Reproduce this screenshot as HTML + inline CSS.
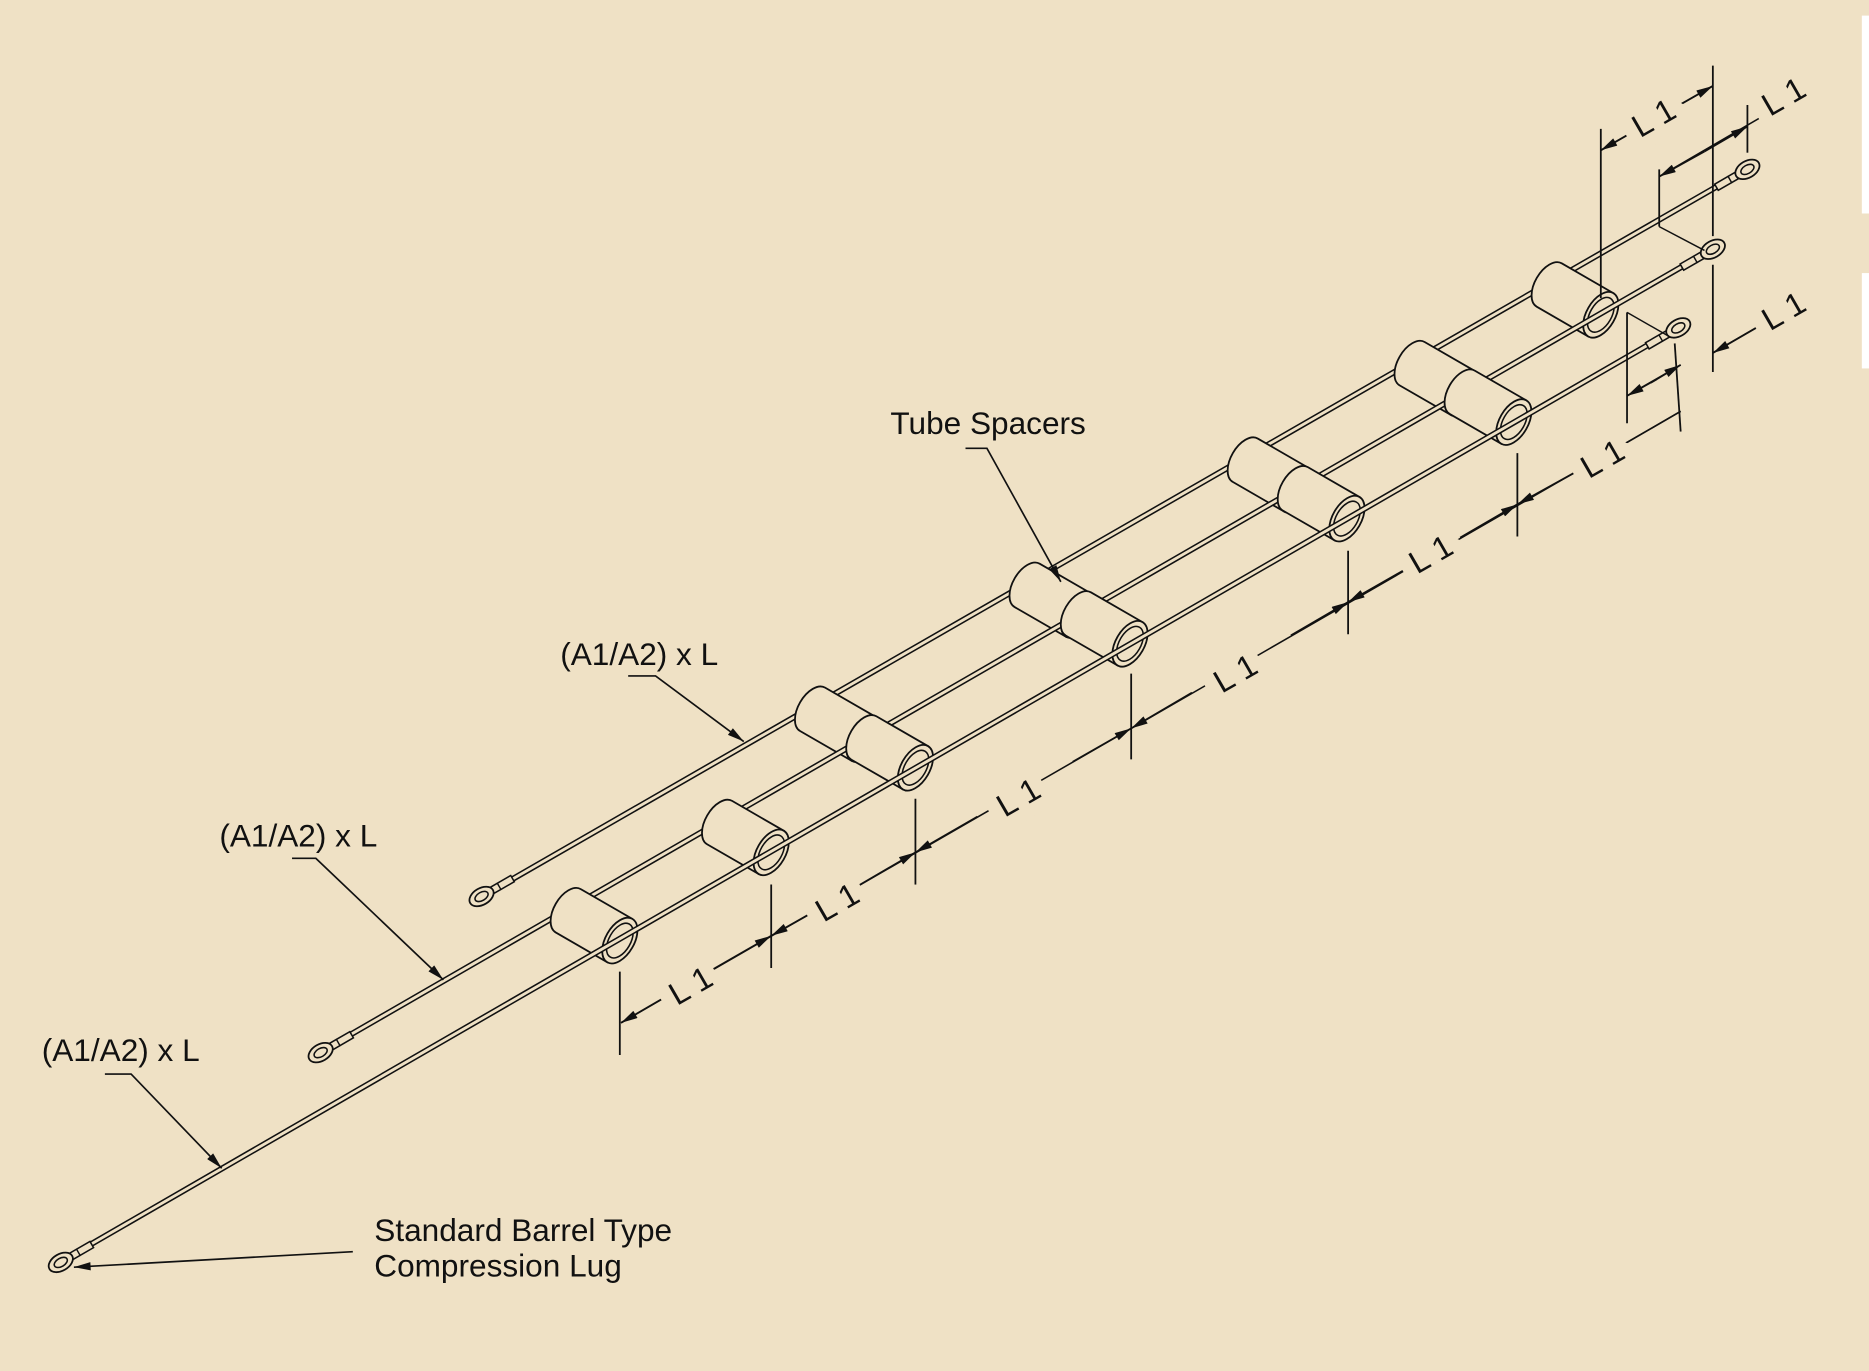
<!DOCTYPE html>
<html><head><meta charset="utf-8"><style>
html,body{margin:0;padding:0;background:#EFE1C5;}
svg{display:block;}
text{font-family:"Liberation Sans",sans-serif;fill:#111;}
</style></head><body>
<svg width="1869" height="1371" viewBox="0 0 1568 1150" xmlns="http://www.w3.org/2000/svg">
<defs>
<g id="cyl">
<path d="M0,-21 L-50,-21 A12,21 0 0 0 -50,21 L0,21 Z" fill="#EFE1C5" stroke="#111" stroke-width="1.5"/>
<ellipse rx="12" ry="21" fill="#EFE1C5" stroke="#111" stroke-width="1.5"/>
<ellipse rx="9" ry="16" fill="none" stroke="#111" stroke-width="1.3"/>
</g>
<g id="lug">
<rect x="10" y="-3" width="20" height="6" fill="#EFE1C5" stroke="#111" stroke-width="1.3"/>
<line x1="17" y1="-3" x2="17" y2="3" stroke="#111" stroke-width="1.2"/>
<ellipse rx="11" ry="7" fill="#EFE1C5" stroke="#111" stroke-width="1.5"/>
<ellipse rx="6" ry="3.5" fill="none" stroke="#111" stroke-width="1.3"/>
</g>
<marker id="ar" viewBox="0 0 16 8" refX="16" refY="4" markerWidth="16" markerHeight="7" markerUnits="userSpaceOnUse" orient="auto"><path d="M0,0 L16,4 L0,8 Z" fill="#111"/></marker>
</defs>
<rect width="1568" height="1150" fill="#EFE1C5"/>
<rect x="1562" y="13" width="6" height="166" fill="#fff"/>
<rect x="1562" y="229" width="6" height="80" fill="#fff"/>

<g stroke-linecap="round">
<line x1="415" y1="746" x2="1455" y2="148" stroke="#111" stroke-width="5"/>
<line x1="415" y1="746" x2="1455" y2="148" stroke="#EFE1C5" stroke-width="2.4"/>
<use href="#lug" transform="translate(404,752) rotate(-30)"/>
<use href="#lug" transform="translate(1466,142) rotate(150)"/>
</g>
<use href="#cyl" transform="translate(725,620) rotate(30)"/>
<use href="#cyl" transform="translate(905,516) rotate(30)"/>
<use href="#cyl" transform="translate(1088,411) rotate(30)"/>
<use href="#cyl" transform="translate(1228,330) rotate(30)"/>
<use href="#cyl" transform="translate(1343,264) rotate(30)"/>
<g stroke-linecap="round">
<line x1="280" y1="876" x2="1426" y2="215" stroke="#111" stroke-width="5"/>
<line x1="280" y1="876" x2="1426" y2="215" stroke="#EFE1C5" stroke-width="2.4"/>
<use href="#lug" transform="translate(269,883) rotate(-30)"/>
<use href="#lug" transform="translate(1437,209) rotate(150)"/>
</g>
<use href="#cyl" transform="translate(520,789) rotate(30)"/>
<use href="#cyl" transform="translate(647,715) rotate(30)"/>
<use href="#cyl" transform="translate(768,644) rotate(30)"/>
<use href="#cyl" transform="translate(948,540) rotate(30)"/>
<use href="#cyl" transform="translate(1130,435) rotate(30)"/>
<use href="#cyl" transform="translate(1270,354) rotate(30)"/>
<g stroke-linecap="round">
<line x1="62" y1="1052" x2="1397" y2="281" stroke="#111" stroke-width="5"/>
<line x1="62" y1="1052" x2="1397" y2="281" stroke="#EFE1C5" stroke-width="2.4"/>
<use href="#lug" transform="translate(51,1059) rotate(-30)"/>
<use href="#lug" transform="translate(1408,275) rotate(150)"/>
</g>

<g stroke="#111" stroke-width="1.5" fill="none">
<line x1="520" y1="815" x2="520" y2="885"/>
<line x1="647" y1="742" x2="647" y2="812"/>
<line x1="768" y1="670" x2="768" y2="742"/>
<line x1="949" y1="565" x2="949" y2="637"/>
<line x1="1131" y1="462" x2="1131" y2="532"/>
<line x1="1273" y1="380" x2="1273" y2="450"/>
<line x1="521" y1="858" x2="1410" y2="345" stroke-width="1.3"/>
<line x1="600" y1="812" x2="521" y2="858" marker-end="url(#ar)"/>
<line x1="600" y1="812" x2="647" y2="785" marker-end="url(#ar)"/>
<line x1="700" y1="755" x2="647" y2="785" marker-end="url(#ar)"/>
<line x1="720" y1="743" x2="768" y2="715" marker-end="url(#ar)"/>
<line x1="820" y1="685" x2="768" y2="715" marker-end="url(#ar)"/>
<line x1="900" y1="639" x2="949" y2="611" marker-end="url(#ar)"/>
<line x1="1000" y1="581" x2="949" y2="611" marker-end="url(#ar)"/>
<line x1="1083" y1="533" x2="1131" y2="505" marker-end="url(#ar)"/>
<line x1="1180" y1="477" x2="1131" y2="505" marker-end="url(#ar)"/>
<line x1="1225" y1="451" x2="1273" y2="423" marker-end="url(#ar)"/>
<line x1="1320" y1="397" x2="1273" y2="423" marker-end="url(#ar)"/>
<line x1="1343" y1="108" x2="1343" y2="250"/>
<line x1="1437" y1="55" x2="1437" y2="198"/>
<line x1="1437" y1="222" x2="1437" y2="312"/>
<line x1="1343" y1="126" x2="1437" y2="72" stroke-width="1.3"/>
<line x1="1390" y1="99" x2="1343" y2="126" marker-end="url(#ar)"/>
<line x1="1400" y1="93" x2="1437" y2="72" marker-end="url(#ar)"/>
<line x1="1392" y1="142" x2="1392" y2="190"/>
<line x1="1392" y1="190" x2="1430" y2="210" stroke-width="1.2"/>
<line x1="1466" y1="88" x2="1466" y2="128"/>
<line x1="1392" y1="148" x2="1495" y2="88" stroke-width="1.3"/>
<line x1="1430" y1="127" x2="1392" y2="148" marker-end="url(#ar)"/>
<line x1="1430" y1="127" x2="1466" y2="106" marker-end="url(#ar)"/>
<line x1="1365" y1="262" x2="1365" y2="355"/>
<line x1="1365" y1="262" x2="1400" y2="282" stroke-width="1.2"/>
<line x1="1405" y1="288" x2="1410" y2="362"/>
<line x1="1365" y1="332" x2="1410" y2="306" stroke-width="1.3"/>
<line x1="1390" y1="318" x2="1365" y2="332" marker-end="url(#ar)"/>
<line x1="1385" y1="321" x2="1410" y2="306" marker-end="url(#ar)"/>
<line x1="1437" y1="296" x2="1485" y2="268" stroke-width="1.3"/>
<line x1="1475" y1="274" x2="1437" y2="296" marker-end="url(#ar)"/>
<line x1="1410" y1="345" x2="1360" y2="374" stroke-width="1.3"/>
</g>
<g font-size="27" letter-spacing="7" stroke="#EFE1C5" stroke-width="22" stroke-linejoin="round" paint-order="stroke" text-anchor="middle">
<text transform="translate(587,833) rotate(-30)">L1</text>
<text transform="translate(710,763) rotate(-30)">L1</text>
<text transform="translate(862,675) rotate(-30)">L1</text>
<text transform="translate(1044,571) rotate(-30)">L1</text>
<text transform="translate(1208,471) rotate(-30)">L1</text>
<text transform="translate(1352,391) rotate(-30)">L1</text>
<text transform="translate(1395,105) rotate(-30)">L1</text>
<text transform="translate(1504,87) rotate(-30)">L1</text>
<text transform="translate(1504,267) rotate(-30)">L1</text>
</g>

<g font-size="26.5">
<text x="747" y="364">Tube Spacers</text>
<text x="470" y="558">(A1/A2) x L</text>
<text x="184" y="710">(A1/A2) x L</text>
<text x="35" y="890">(A1/A2) x L</text>
<text x="314" y="1041">Standard Barrel Type</text>
<text x="314" y="1071">Compression Lug</text>
</g>
<g stroke="#111" stroke-width="1.4" fill="none">
<polyline points="810,376 828,376 890,488" marker-end="url(#ar)"/>
<polyline points="527,567 550,567 624,622" marker-end="url(#ar)"/>
<polyline points="245,720 265,720 372,822" marker-end="url(#ar)"/>
<polyline points="88,901 110,901 186,980" marker-end="url(#ar)"/>
<line x1="296" y1="1050" x2="62" y2="1063" marker-end="url(#ar)"/>
</g>
</svg>
</body></html>
